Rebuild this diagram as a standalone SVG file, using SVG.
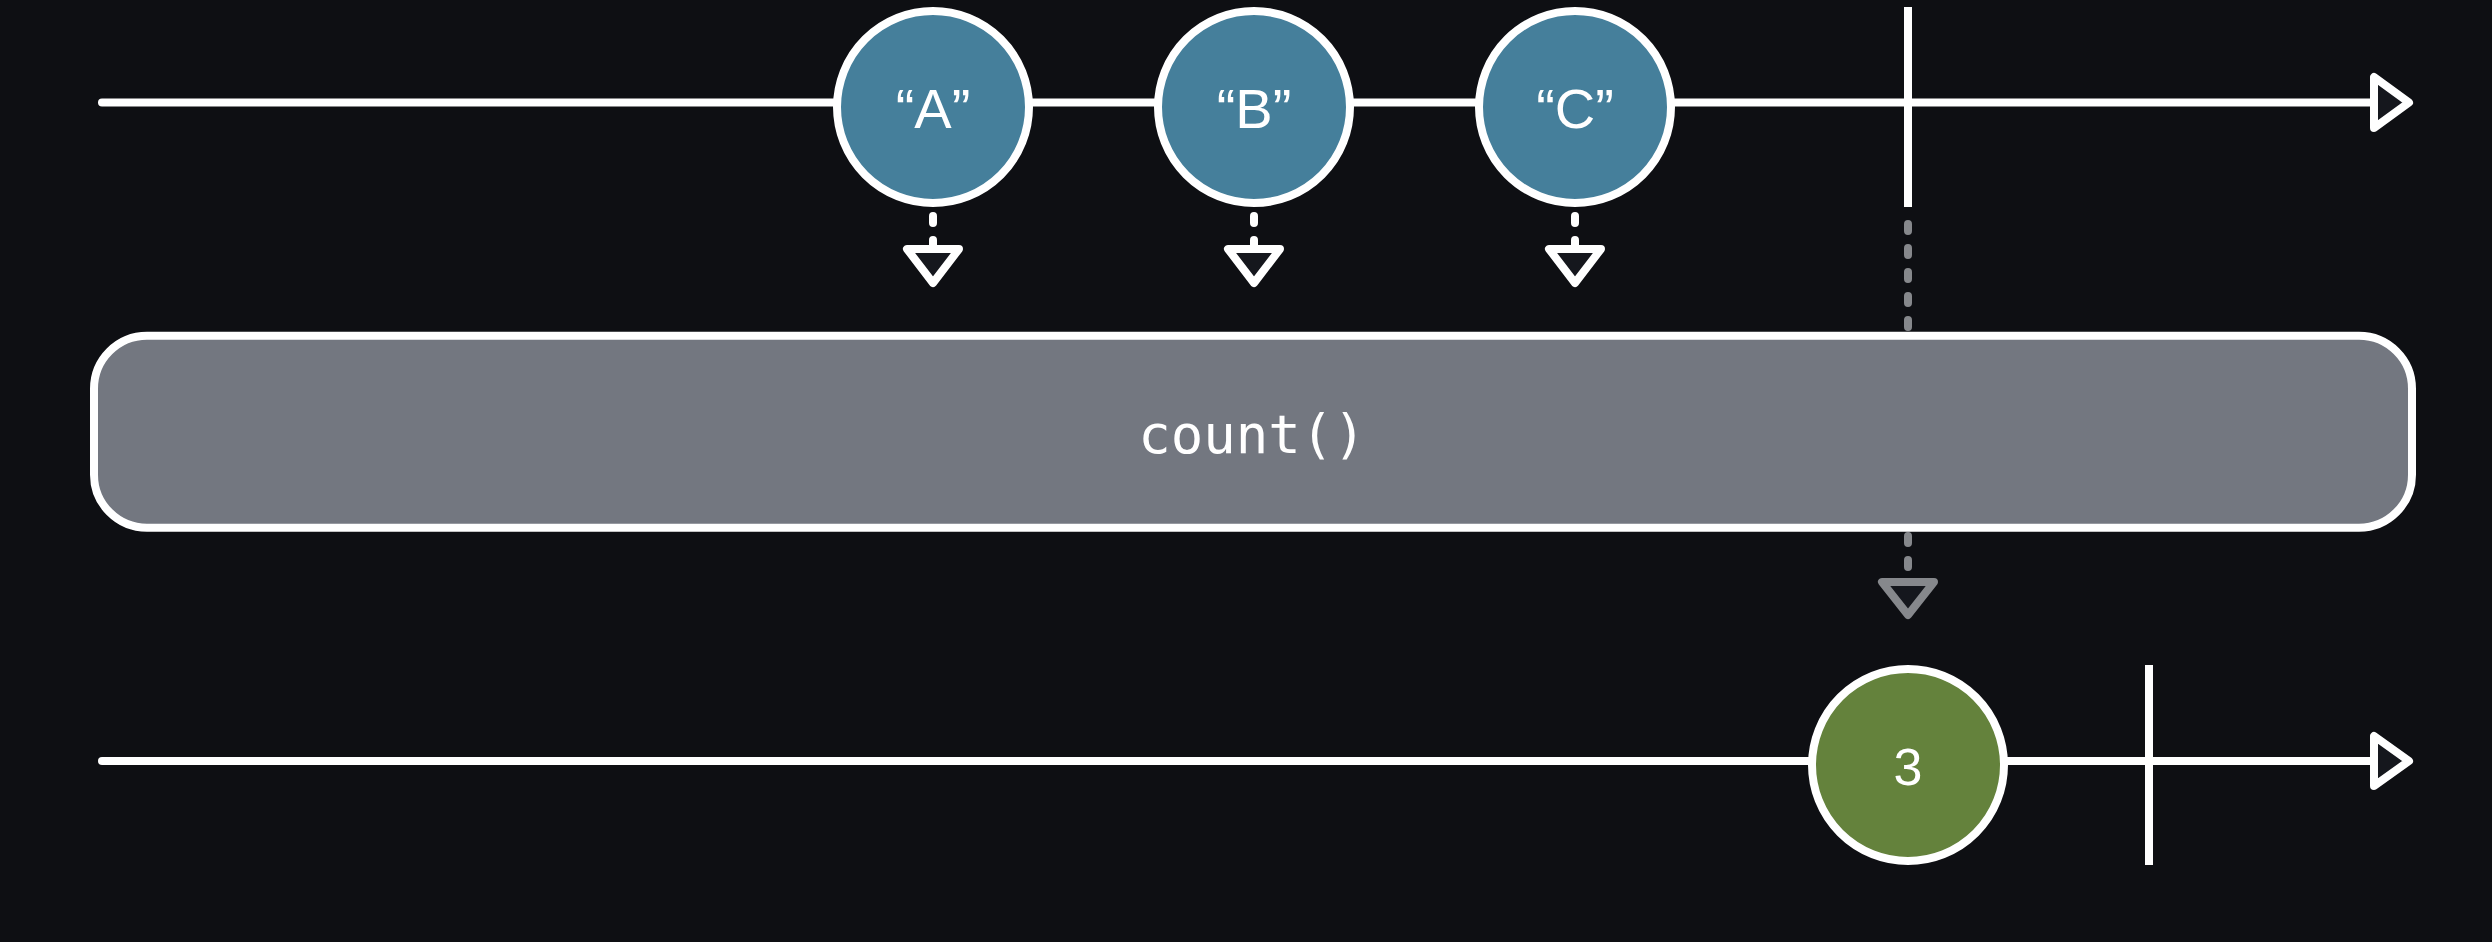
<svg xmlns="http://www.w3.org/2000/svg" width="2492" height="942" viewBox="0 0 2492 942">
  <style>
    .line { stroke: #ffffff; stroke-width: 8; fill: none; stroke-linecap: round; }
    .bar { stroke: #ffffff; stroke-width: 8; fill: none; stroke-linecap: butt; }
    .head { stroke: #ffffff; stroke-width: 8; fill: #15171d; stroke-linejoin: round; }
    .headgray { stroke: #86888c; stroke-width: 8; fill: #15171d; stroke-linejoin: round; }
    .dash { stroke: #ffffff; stroke-width: 8; fill: none; stroke-linecap: round; stroke-dasharray: 7 17; }
    .dashgray { stroke: #86888c; stroke-width: 8; fill: none; stroke-linecap: round; stroke-dasharray: 7 17; }
    .marble { stroke: #ffffff; stroke-width: 8; }
    .blue { fill: #457f9b; }
    .green { fill: #64823c; }
    .label { fill: #ffffff; font-family: "Liberation Sans", "Open Sans", sans-serif; text-anchor: middle; }
    .op { fill: #ffffff; font-family: "DejaVu Sans Mono", "Liberation Mono", monospace; text-anchor: middle; font-size: 54px; }
  </style>
  <rect width="2492" height="942" fill="#0e0f13"/>

  <g id="connectors">
    <line class="line" x1="102" y1="102.5" x2="2374" y2="102.5"/>
    <polygon class="head" points="2374,77 2374,128 2409,102.5"/>
    <line class="line" x1="102" y1="761" x2="2374" y2="761"/>
    <polygon class="head" points="2374,736 2374,786 2409,761"/>
    <line class="dash" x1="933" y1="216" x2="933" y2="247"/>
    <polygon class="head" points="907,249 959,249 933,283"/>
    <line class="dash" x1="1254" y1="216" x2="1254" y2="247"/>
    <polygon class="head" points="1228,249 1280,249 1254,283"/>
    <line class="dash" x1="1575" y1="216" x2="1575" y2="247"/>
    <polygon class="head" points="1549,249 1601,249 1575,283"/>
    <line class="dashgray" x1="1908" y1="224" x2="1908" y2="567"/>
    <polygon class="headgray" points="1882,582 1934,582 1908,615"/>
  </g>

  <g id="operator">
    <rect x="94" y="335.7" width="2318" height="192" rx="53" ry="53" fill="#737780" stroke="#ffffff" stroke-width="8"/>
    <text class="op" x="1252" y="453">count()</text>
  </g>

  <g id="complete-top">
    <line class="bar" x1="1908" y1="7" x2="1908" y2="207"/>
  </g>
  <g id="complete-bottom">
    <line class="bar" x1="2149" y1="665" x2="2149" y2="865"/>
  </g>

  <g id="marble-a">
    <circle class="marble blue" cx="933" cy="107" r="96"/>
    <text class="label" x="933" y="128" font-size="56">“A”</text>
  </g>
  <g id="marble-b">
    <circle class="marble blue" cx="1254" cy="107" r="96"/>
    <text class="label" x="1254" y="128" font-size="56">“B”</text>
  </g>
  <g id="marble-c">
    <circle class="marble blue" cx="1575" cy="107" r="96"/>
    <text class="label" x="1575" y="128" font-size="56">“C”</text>
  </g>
  <g id="marble-3">
    <circle class="marble green" cx="1908" cy="765" r="96"/>
    <text class="label" x="1908" y="785" font-size="52">3</text>
  </g>
</svg>
